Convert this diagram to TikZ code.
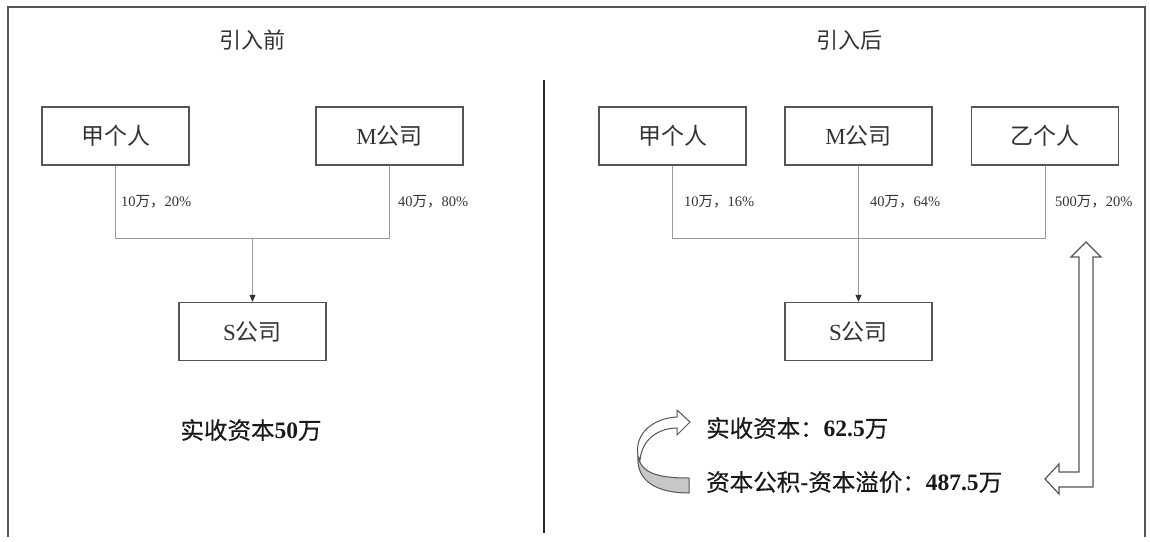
\documentclass[tikz,border=0pt]{standalone}
\usepackage{fontspec}
\setmainfont{Liberation Serif}
\newfontfamily\cjk{Noto Sans CJK SC}
\newfontfamily\cjkh[FakeBold=0.35]{Noto Sans CJK SC}
\usetikzlibrary{arrows.meta}
\definecolor{boxline}{HTML}{555555}
\definecolor{conn}{HTML}{9A9A9A}
\definecolor{txt}{HTML}{333333}
\tikzset{
  entity/.style={draw=boxline, line width=1.3pt, minimum width=147pt, minimum height=58pt, inner sep=0pt, text=txt, font=\fontsize{23}{26}\selectfont},
  share/.style={anchor=west, inner sep=0pt, text=txt, font=\fontsize{14.5}{16}\selectfont},
  conline/.style={draw=conn, line width=0.9pt},
  title/.style={text=txt, font=\fontsize{22}{25}\selectfont},
  sumtext/.style={inner sep=0pt, text=black!90, font=\fontsize{23.5}{27}\selectfont},
  hollow/.style={draw=boxline, line width=1.2pt, fill=white, line join=miter}
}
\begin{document}
\begin{tikzpicture}[x=1pt, y=-1pt]
\useasboundingbox (0,0) rectangle (1150,541);
% frame
\draw[draw=boxline, line width=1.2pt] (8,537) -- (8,7) -- (1145,7) -- (1145,537);
% divider
\draw[draw=black!85, line width=2pt] (544,80) -- (544,533);
% titles
\node[title] (t1) at (252,40) {{\cjk 引入前}};
\node[title] (t2) at (849,40) {{\cjk 引入后}};
% left diagram
\node[entity] (a1) at (115.5,136) {{\cjk 甲个人}};
\node[entity] (m1) at (389.5,136) {M{\cjk 公司}};
\node[entity] (s1) at (252.5,331.5) {S{\cjk 公司}};
\coordinate (lj) at (252.5,238);
\draw[conline] (a1.south) |- (lj);
\draw[conline] (m1.south) |- (lj);
\draw[conline, -{Triangle[length=7pt,width=6pt,color=black!80]}] (lj) -- (s1.north);
\node[share] (l1) at (121,202) {10{\cjk 万，}20\%};
\node[share] (l2) at (398,202) {40{\cjk 万，}80\%};
\node[sumtext] (c1) at (251,430) {{\cjkh 实收资本}{\bfseries 50}{\cjkh 万}};
% right diagram
\node[entity] (a2) at (672.5,136) {{\cjk 甲个人}};
\node[entity] (m2) at (858.5,136) {M{\cjk 公司}};
\node[entity] (b2) at (1045,136) {{\cjk 乙个人}};
\node[entity] (s2) at (858.5,331.5) {S{\cjk 公司}};
\coordinate (rj) at (858.5,238);
\draw[conline] (a2.south) |- (rj);
\draw[conline] (b2.south) |- (rj);
\draw[conline, -{Triangle[length=7pt,width=6pt,color=black!80]}] (m2.south) -- (s2.north);
\node[share] (l3) at (684,202) {10{\cjk 万，}16\%};
\node[share] (l4) at (870,202) {40{\cjk 万，}64\%};
\node[share] (l5) at (1055,202) {500{\cjk 万，}20\%};
\node[sumtext, anchor=west] (c2) at (706,428) {{\cjkh 实收资本：}{\bfseries 62.5}{\cjkh 万}};
\node[sumtext, anchor=west] (c3) at (706,482) {{\cjkh 资本公积-资本溢价：}{\bfseries 487.5}{\cjkh 万}};
% hollow elbow arrow
\draw[hollow] (1086,242) -- (1101,257) -- (1093,257) -- (1093,487) -- (1059,487)
  -- (1059,494) -- (1045,479) -- (1059,464) -- (1059,472) -- (1079,472)
  -- (1079,257) -- (1071,257) -- cycle;
% curved arrow
\draw[draw=boxline, line width=1pt, fill=black!22]
  (638,456) .. controls (641,474) and (660,478) .. (689,478) -- (689,493)
  .. controls (658,493) and (636,482) .. (638,456) -- cycle;
\draw[draw=boxline, line width=1pt, fill=white]
  (638,456) .. controls (634,432) and (655,418) .. (677,417) -- (677,410)
  -- (690,422) -- (677,435) -- (677,428)
  .. controls (660,428) and (642,438) .. (640,460) -- cycle;
\end{tikzpicture}
\end{document}
